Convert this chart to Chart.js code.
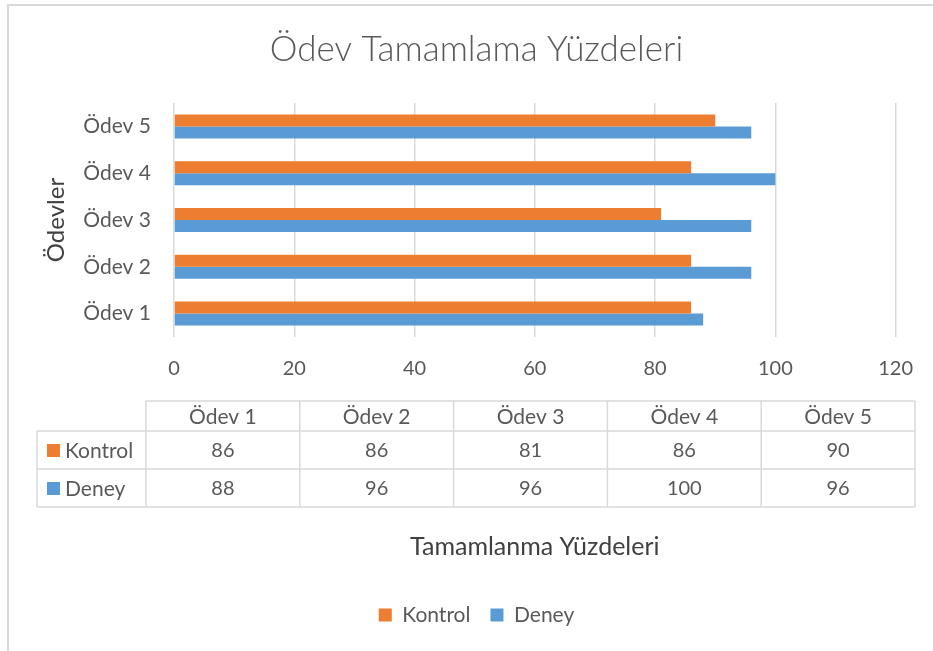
<!DOCTYPE html>
<html lang="tr">
<head>
  <meta charset="UTF-8" />
  <title>Ödev Tamamlama Yüzdeleri</title>
  <script src="https://cdn.jsdelivr.net/npm/chart.js"></script>
  <style>
    body {
      margin: 0;
      background: #ffffff;
      font-family: Lato, 'Open Sans', sans-serif;
    }

    .frame {
      position: absolute;
      left: 7px;
      top: 4px;
      width: 940px;
      height: 660px;
      border-left: 2px solid #d9d9d9;
      border-top: 2px solid #d9d9d9;
      pointer-events: none;
    }

    .chart-box {
      position: absolute;
      left: 0;
      top: 0;
      width: 933px;
      height: 651px;
    }
  </style>
</head>
<body>

<div class="chart-box">
  <canvas id="odevChart" width="933" height="651"></canvas>
</div>
<div class="frame"></div>

<script>
  // Data
  const odevler = ['Ödev 1', 'Ödev 2', 'Ödev 3', 'Ödev 4', 'Ödev 5'];
  const kontrol = [86, 86, 81, 86, 90];
  const deney = [88, 96, 96, 100, 96];
  const xTicks = [0, 20, 40, 60, 80, 100, 120];

  const ORANGE = '#ED7D31';
  const BLUE = '#5B9BD5';
  const TEXT = '#595959';
  const GRID = '#d9d9d9';
  const FONT = "Lato, 'Open Sans', sans-serif";

  // Data table drawn under the axis, like the Excel chart
  const dataTable = {
    id: 'dataTable',
    afterDraw(chart) {
      const ctx = chart.ctx;
      const rows = [
        { name: 'Kontrol', color: ORANGE, values: kontrol },
        { name: 'Deney', color: BLUE, values: deney }
      ];
      const labelLeft = 37;
      const colLeft = 146;
      const colRight = 915;
      const colW = (colRight - colLeft) / odevler.length;
      const yHead = 401, yRow1 = 431, yRow2 = 469, yBottom = 507;
      const rowLines = [yRow1, yRow2, yBottom];

      ctx.save();
      ctx.strokeStyle = GRID;
      ctx.lineWidth = 1.5;
      ctx.beginPath();
      ctx.moveTo(colLeft, yHead); ctx.lineTo(colRight, yHead);
      rowLines.forEach(y => { ctx.moveTo(labelLeft, y); ctx.lineTo(colRight, y); });
      ctx.moveTo(labelLeft, yRow1); ctx.lineTo(labelLeft, yBottom);
      for (let i = 0; i <= odevler.length; i++) {
        const x = colLeft + i * colW;
        ctx.moveTo(x, yHead); ctx.lineTo(x, yBottom);
      }
      ctx.stroke();

      ctx.fillStyle = TEXT;
      ctx.font = '21px ' + FONT;
      ctx.textAlign = 'center';
      ctx.textBaseline = 'middle';
      odevler.forEach((name, i) => {
        ctx.fillText(name, colLeft + (i + 0.5) * colW, (yHead + yRow1) / 2 + 1);
      });

      const rowTops = [yRow1, yRow2];
      rows.forEach((row, r) => {
        const cy = (rowTops[r] + rowLines[r + 1]) / 2 + 1;
        ctx.font = '20px ' + FONT;
        row.values.forEach((v, i) => {
          ctx.fillStyle = TEXT;
          ctx.textAlign = 'center';
          ctx.fillText(String(v), colLeft + (i + 0.5) * colW, cy);
        });
        ctx.fillStyle = row.color;
        ctx.fillRect(47, cy - 7, 13, 13);
        ctx.font = '21px ' + FONT;
        ctx.fillStyle = TEXT;
        ctx.textAlign = 'left';
        ctx.fillText(row.name, 65, cy);
      });
      ctx.restore();
    }
  };

  const ctx = document.getElementById('odevChart').getContext('2d');

  const chart = new Chart(ctx, {
    type: 'bar',
    data: {
      labels: odevler,
      datasets: [
        {
          label: 'Kontrol',
          data: kontrol,
          backgroundColor: ORANGE,
          categoryPercentage: 0.513,
          barPercentage: 1
        },
        {
          label: 'Deney',
          data: deney,
          backgroundColor: BLUE,
          categoryPercentage: 0.513,
          barPercentage: 1
        }
      ]
    },
    options: {
      indexAxis: 'y',
      responsive: false,
      animation: false,
      layout: {
        padding: { top: 0, left: 56, right: 36, bottom: 15.5 }
      },
      plugins: {
        title: {
          display: true,
          text: 'Ödev Tamamlama Yüzdeleri',
          color: TEXT,
          font: { family: FONT, size: 35, weight: '300' },
          padding: { top: 29, bottom: 32 }
        },
        legend: {
          display: true,
          position: 'bottom',
          labels: {
            color: TEXT,
            font: { family: FONT, size: 21 },
            boxWidth: 13,
            boxHeight: 13,
            padding: 20
          }
        },
        tooltip: { enabled: false }
      },
      scales: {
        x: {
          min: 0,
          max: 120,
          afterBuildTicks: (scale) => {
            scale.ticks = xTicks.map(v => ({ value: v }));
          },
          afterFit: (scale) => { scale.height = 247.5; },
          grid: {
            color: GRID,
            lineWidth: 1.5,
            drawTicks: false
          },
          border: { display: false },
          ticks: {
            color: TEXT,
            font: { family: FONT, size: 20 },
            padding: 20
          },
          title: {
            display: true,
            text: 'Tamamlanma Yüzdeleri',
            color: '#404040',
            font: { family: FONT, size: 25 },
            padding: { top: 0, bottom: 22.5 }
          }
        },
        y: {
          reverse: true,
          afterFit: (scale) => { scale.width = 118; },
          grid: { display: false, drawTicks: false },
          border: { display: false },
          ticks: {
            color: TEXT,
            font: { family: FONT, size: 21 },
            padding: 23
          },
          title: {
            display: true,
            text: 'Ödevler',
            color: '#404040',
            font: { family: FONT, size: 24 },
            padding: { top: -14.4, bottom: 0 }
          }
        }
      }
    },
    plugins: [dataTable]
  });
</script>

</body>
</html>
